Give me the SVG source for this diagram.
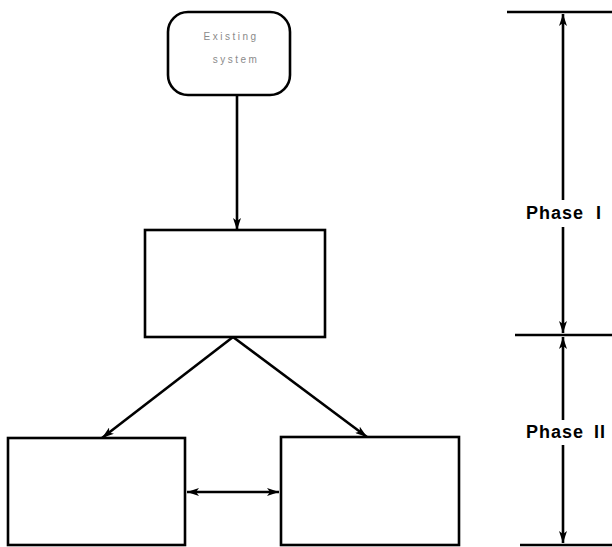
<svg xmlns="http://www.w3.org/2000/svg" width="612" height="547" viewBox="0 0 612 547">
<style>
.box{fill:#fff;stroke:#000;stroke-width:2.6}
.ln{stroke:#000;stroke-width:2.6;fill:none}
.faint{font-family:"Liberation Sans",Arial,sans-serif;font-size:10px;fill:#8a8a8a;letter-spacing:2.5px}
.ph{font-family:"Liberation Sans",Arial,sans-serif;font-size:18px;font-weight:bold;fill:#000;letter-spacing:1px}
</style>
<defs>
<marker id="ah" viewBox="0 0 12 8" refX="12" refY="4" markerWidth="12" markerHeight="8" markerUnits="userSpaceOnUse" orient="auto-start-reverse">
<path d="M0,0 L12,4 L0,8 L3,4 Z" fill="#000"/>
</marker>
</defs>
<rect width="612" height="547" fill="#fff"/>
<g id="existing-system">
<rect class="box" x="168" y="12" width="122" height="83" rx="20"/>
<text class="faint" x="231" y="40" text-anchor="middle">Existing</text>
<text class="faint" x="236" y="63" text-anchor="middle">system</text>
</g>
<g id="middle-box">
<rect class="box" x="145" y="230" width="180" height="107"/>
</g>
<g id="left-box">
<rect class="box" x="8" y="438" width="177" height="107"/>
</g>
<g id="right-box">
<rect class="box" x="281" y="437" width="178" height="108"/>
</g>
<g id="connectors">
<line class="ln" x1="237" y1="95" x2="237" y2="230" marker-end="url(#ah)"/>
<line class="ln" x1="233" y1="337" x2="102" y2="438" marker-end="url(#ah)"/>
<line class="ln" x1="233" y1="337" x2="367" y2="437" marker-end="url(#ah)"/>
<line class="ln" x1="187" y1="492" x2="279" y2="492" marker-start="url(#ah)" marker-end="url(#ah)"/>
</g>
<g id="phases">
<line class="ln" x1="507" y1="12" x2="612" y2="12"/>
<line class="ln" x1="515" y1="335" x2="612" y2="335"/>
<line class="ln" x1="520" y1="545" x2="612" y2="545"/>
<line class="ln" x1="563" y1="14" x2="563" y2="200" marker-start="url(#ah)"/>
<line class="ln" x1="563" y1="227" x2="563" y2="333" marker-end="url(#ah)"/>
<line class="ln" x1="563" y1="337" x2="563" y2="420" marker-start="url(#ah)"/>
<line class="ln" x1="563" y1="445" x2="563" y2="543" marker-end="url(#ah)"/>
<text class="ph" x="526" y="219">Phase</text><text class="ph" x="596" y="219">I</text>
<text class="ph" x="526" y="438">Phase</text><text class="ph" x="594" y="438">II</text>
</g>
</svg>
